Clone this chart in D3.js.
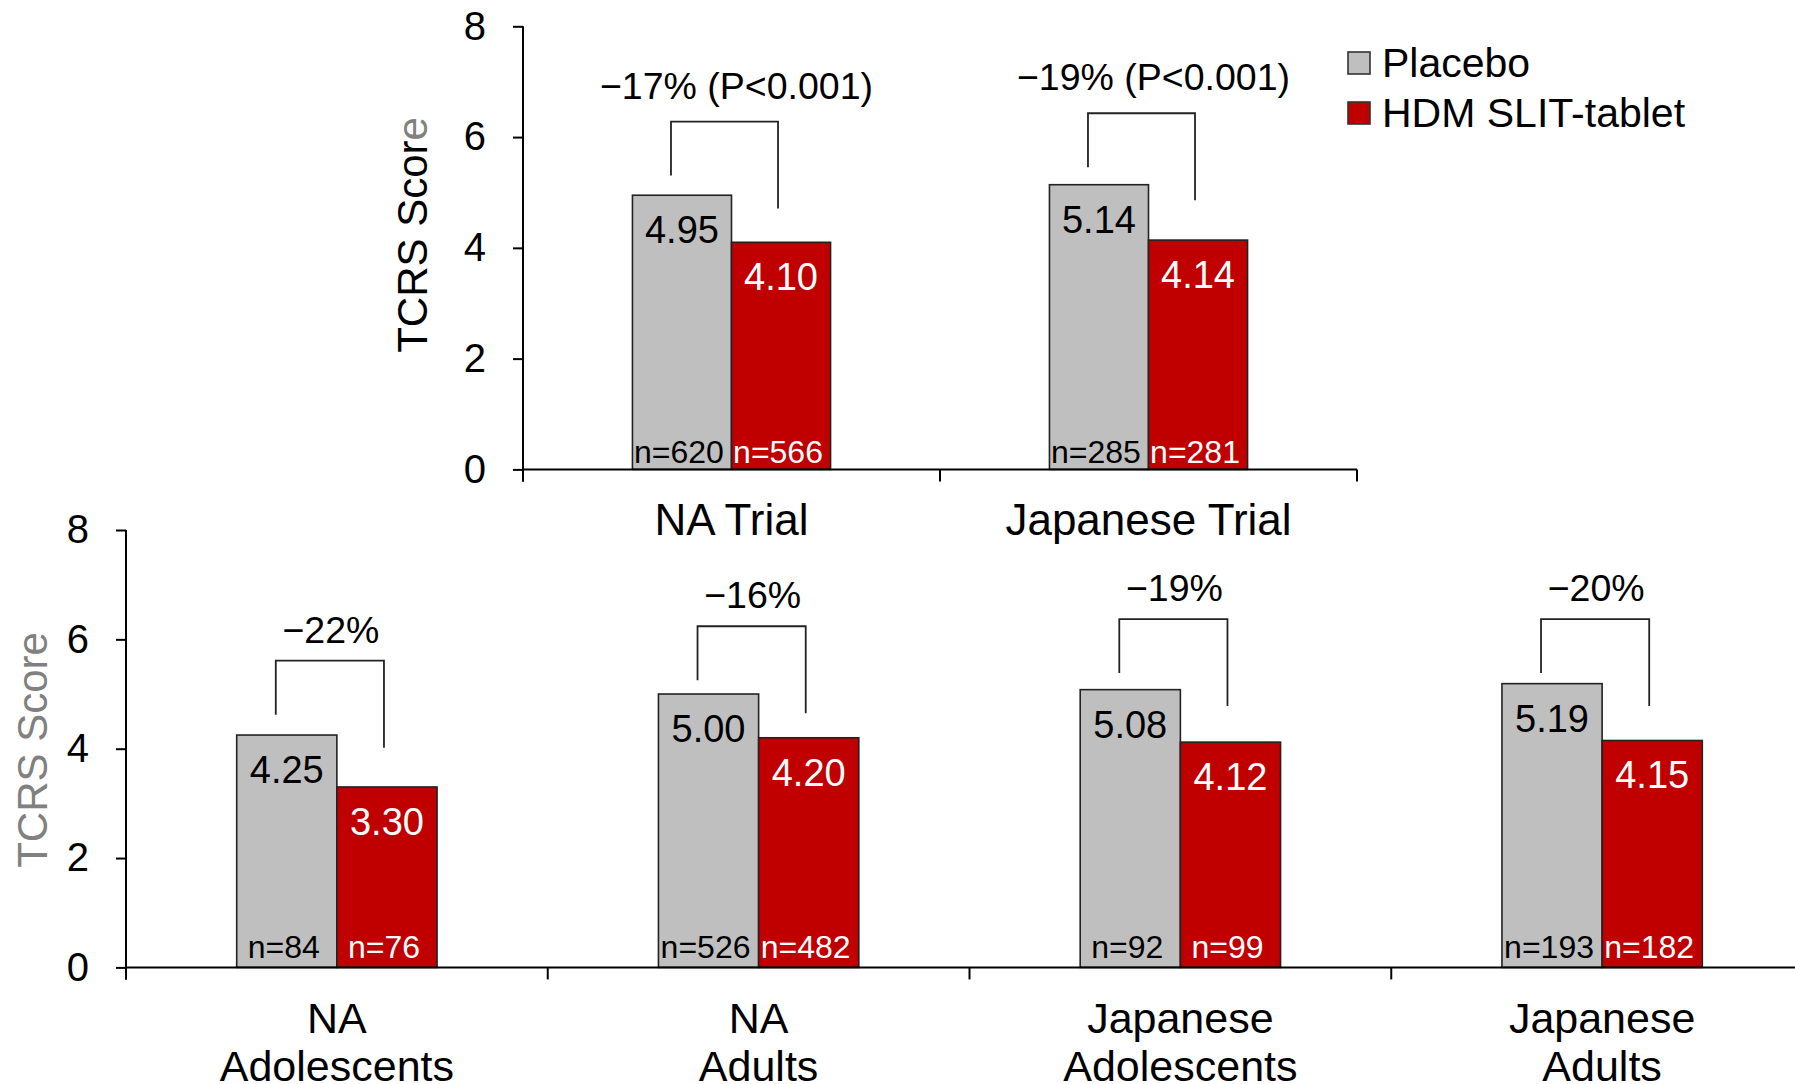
<!DOCTYPE html>
<html>
<head>
<meta charset="utf-8">
<script src="https://cdn.jsdelivr.net/npm/d3@7"></script>
<style>
  html, body { margin: 0; padding: 0; background: #fff; }
  svg { display: block; font-family: "Liberation Sans", Arial, sans-serif; }
</style>
</head>
<body>
<svg id="chart" width="1795" height="1084"></svg>
<script>
// ---------- data ----------
const series = ["Placebo", "HDM SLIT-tablet"];
const yTicks = [0, 2, 4, 6, 8];

const topCategories = ["NA Trial", "Japanese Trial"];
const topPlacebo = [4.95, 5.14];
const topSlit = [4.10, 4.14];
const topPlaceboN = ["n=620", "n=285"];
const topSlitN = ["n=566", "n=281"];
const topReduction = ["\u221217% (P<0.001)", "\u221219% (P<0.001)"];
const topBracket = [6.28, 6.43];

const bottomCategories = ["NA Adolescents", "NA Adults", "Japanese Adolescents", "Japanese Adults"];
const bottomPlacebo = [4.25, 5.00, 5.08, 5.19];
const bottomSlit = [3.30, 4.20, 4.12, 4.15];
const bottomPlaceboN = ["n=84", "n=526", "n=92", "n=193"];
const bottomSlitN = ["n=76", "n=482", "n=99", "n=182"];
const bottomReduction = ["\u221222%", "\u221216%", "\u221219%", "\u221220%"];
const bottomBracket = [5.61, 6.24, 6.37, 6.37];

// ---------- styles ----------
const colors = { "Placebo": "#BFBFBF", "HDM SLIT-tablet": "#C00000" };
const labelColors = { "Placebo": "#000", "HDM SLIT-tablet": "#fff" };

const svg = d3.select("#chart");

function drawPanel(opt) {
  const g = svg.append("g");
  const x = d3.scaleBand().domain(opt.categories).range(opt.xRange).padding(0);
  const xs = d3.scaleBand().domain(series).range([0, x.bandwidth()]).paddingInner(0).paddingOuter(1.105);
  const y = d3.scaleLinear().domain([0, 8]).range(opt.yRange);

  const rows = opt.categories.map((c, i) => ({
    cat: c, i,
    vals: [
      { s: series[0], v: opt.placebo[i], n: opt.placeboN[i] },
      { s: series[1], v: opt.slit[i], n: opt.slitN[i] }
    ]
  }));

  // bars
  const cg = g.selectAll("g.cat").data(rows).join("g")
    .attr("transform", d => `translate(${x(d.cat)},0)`);
  cg.selectAll("rect").data(d => d.vals).join("rect")
    .attr("x", d => xs(d.s))
    .attr("width", xs.bandwidth())
    .attr("y", d => y(d.v))
    .attr("height", d => y(0) - y(d.v))
    .attr("fill", d => colors[d.s])
    .attr("stroke", "#222")
    .attr("stroke-width", 1.6);

  // value labels
  cg.selectAll("text.val").data(d => d.vals).join("text")
    .attr("class", "val")
    .attr("x", d => xs(d.s) + xs.bandwidth() / 2)
    .attr("y", d => y(d.v) + 48)
    .attr("text-anchor", "middle")
    .attr("font-size", 38)
    .attr("fill", d => labelColors[d.s])
    .text(d => d.v.toFixed(2));

  // n labels
  cg.selectAll("text.n").data(d => d.vals).join("text")
    .attr("class", "n")
    .attr("x", d => xs(d.s) + xs.bandwidth() / 2 - 3)
    .attr("y", y(0) - opt.nOffset)
    .attr("text-anchor", "middle")
    .attr("font-size", 32)
    .attr("fill", d => labelColors[d.s])
    .text(d => d.n);

  // brackets
  const legL = 54, legR = 87;
  cg.each(function(d) {
    const sel = d3.select(this);
    const xl = xs(series[0]) + xs.bandwidth() / 2 - 11;
    const xr = xs(series[1]) + xs.bandwidth() / 2 - 3;
    const yt = y(opt.bracket[d.i]);
    sel.append("path")
      .attr("d", `M${xl},${yt + legL}V${yt}H${xr}V${yt + legR}`)
      .attr("fill", "none")
      .attr("stroke", "#222")
      .attr("stroke-width", 1.8);
    sel.append("text")
      .attr("x", (xl + xr) / 2 + opt.redShift)
      .attr("y", yt - opt.redGap)
      .attr("text-anchor", "middle")
      .attr("font-size", 37.5)
      .attr("fill", "#000")
      .text(opt.reduction[d.i]);
  });

  // y axis
  const ya = g.append("g")
    .attr("transform", `translate(${opt.xRange[0]},0)`)
    .call(d3.axisLeft(y).tickValues(yTicks).tickSize(10).tickPadding(27).tickFormat(d3.format("d")));
  ya.select(".domain").attr("stroke", "#000").attr("stroke-width", 2)
    .attr("d", `M0,${y(8)}V${y(0) + 12}`);
  ya.selectAll(".tick line").attr("stroke", "#000").attr("stroke-width", 2);
  ya.selectAll(".tick text").attr("font-size", 40).attr("fill", "#000")
    .attr("font-family", "Liberation Sans, Arial, sans-serif");

  // x axis (ticks at band boundaries)
  const xa = g.append("g").attr("transform", `translate(0,${y(0)})`);
  xa.append("line").attr("x1", opt.xRange[0]).attr("x2", opt.xRange[1])
    .attr("stroke", "#000").attr("stroke-width", 2);
  const bounds = opt.categories.map(c => x(c)).concat([opt.xRange[1]]);
  xa.selectAll("line.t").data(bounds).join("line").attr("class", "t")
    .attr("x1", d => d).attr("x2", d => d).attr("y1", 0).attr("y2", 12)
    .attr("stroke", "#000").attr("stroke-width", 2);

  // category labels
  rows.forEach(r => {
    const lines = opt.splitLines ? r.cat.split(" ") : [r.cat];
    const t = g.append("text")
      .attr("x", x(r.cat) + x.bandwidth() / 2)
      .attr("y", y(0) + 66)
      .attr("text-anchor", "middle")
      .attr("font-size", opt.catFont)
      .attr("fill", "#000");
    lines.forEach((ln, k) => {
      t.append("tspan").attr("x", x(r.cat) + x.bandwidth() / 2)
        .attr("dy", k === 0 ? 0 : 48).text(ln);
    });
  });

  // y axis title
  const title = g.append("text")
    .attr("transform", `translate(${opt.titleX},${opt.titleY}) rotate(-90)`)
    .attr("text-anchor", "middle")
    .attr("dominant-baseline", "central")
    .attr("font-size", 42)
    .attr("fill", opt.titleColor);
  if (opt.titleSplit) {
    title.append("tspan").text("TCRS Scor");
    title.append("tspan").attr("fill", "#808080").text("e");
  } else {
    title.text("TCRS Score");
  }
}

drawPanel({
  categories: topCategories, placebo: topPlacebo, slit: topSlit,
  placeboN: topPlaceboN, slitN: topSlitN, reduction: topReduction, bracket: topBracket,
  xRange: [523, 1357], yRange: [469.4, 26.3], nOffset: 6, splitLines: false, catFont: 44,
  titleX: 412, titleY: 235, titleColor: "#000", titleSplit: true, redShift: 12, redGap: 23
});

drawPanel({
  categories: bottomCategories, placebo: bottomPlacebo, slit: bottomSlit,
  placeboN: bottomPlaceboN, slitN: bottomSlitN, reduction: bottomReduction, bracket: bottomBracket,
  xRange: [126, 1813], yRange: [967.4, 530], nOffset: 9, splitLines: true, catFont: 43,
  titleX: 32, titleY: 750, titleColor: "#808080", titleSplit: false, redShift: 1, redGap: 18
});

// legend
const legend = svg.append("g").attr("transform", "translate(1348,52)");
series.forEach((s, i) => {
  legend.append("rect")
    .attr("x", 0).attr("y", i * 50)
    .attr("width", 22).attr("height", 22)
    .attr("fill", colors[s]).attr("stroke", "#333").attr("stroke-width", 1.6);
  legend.append("text")
    .attr("x", 34).attr("y", i * 50 + 25)
    .attr("font-size", 41).attr("fill", "#000")
    .text(s);
});
</script>
</body>
</html>
